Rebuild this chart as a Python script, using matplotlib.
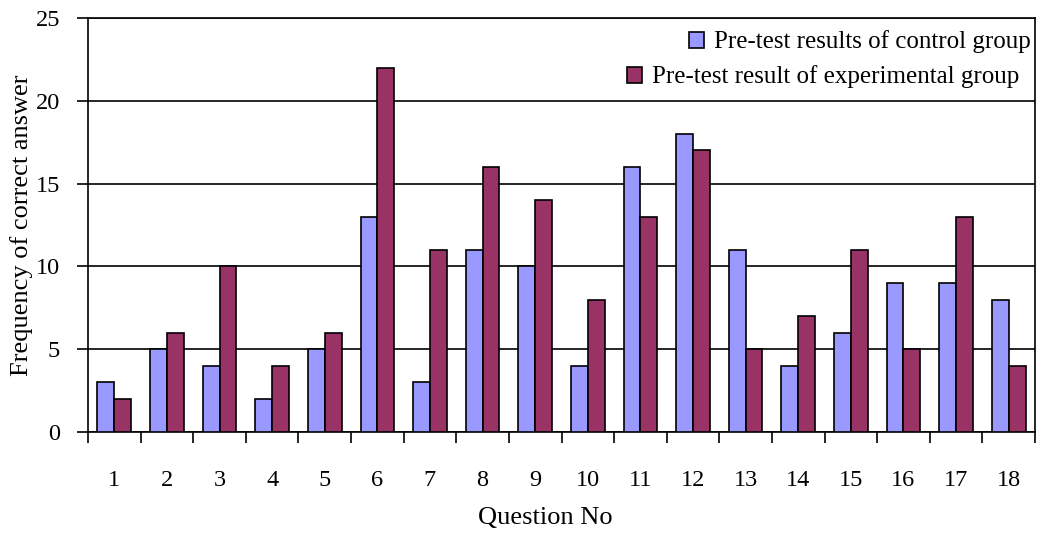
import matplotlib
matplotlib.use("Agg")
import matplotlib.pyplot as plt
import numpy as np
from matplotlib.patches import Patch

plt.rcParams['font.family'] = ['Liberation Serif', 'DejaVu Serif']

questions = [str(i) for i in range(1, 19)]
control = [3, 5, 4, 2, 5, 13, 3, 11, 10, 4, 16, 18, 11, 4, 6, 9, 9, 8]
experimental = [2, 6, 10, 4, 6, 22, 11, 16, 14, 8, 13, 17, 5, 7, 11, 5, 13, 4]
label_control = "Pre-test results of control group"
label_exp = "Pre-test result of experimental group"
c_control = "#9999FF"
c_exp = "#993366"

W, H = 1038, 533
fig = plt.figure(figsize=(W/100, H/100), dpi=100)
ax = fig.add_axes([88/W, (H-432)/H, (1035-88)/W, (432-18)/H])

x = np.arange(len(questions))
w = 0.32
ax.bar(x - w/2, control, w, color=c_control, edgecolor='black', linewidth=1.2, zorder=3)
ax.bar(x + w/2, experimental, w, color=c_exp, edgecolor='black', linewidth=1.2, zorder=3)

ax.set_xlim(-0.5, len(questions) - 0.5)
ax.set_ylim(0, 25)
ax.set_yticks([0, 5, 10, 15, 20, 25])
ax.yaxis.grid(True, color='black', linewidth=1.2, zorder=0)
ax.set_axisbelow(True)

ax.set_xticks(x)
ax.set_xticklabels(questions, fontsize=17.5)
ax.tick_params(axis='x', which='major', length=0, pad=27)
ax.set_xticks(np.arange(-0.5, len(questions), 1), minor=True)
ax.tick_params(axis='x', which='minor', length=8, width=1.2, direction='out')
ax.tick_params(axis='y', labelsize=17.5, length=8, width=1.2, direction='out', pad=12)

for s in ax.spines.values():
    s.set_linewidth(1.2)

ax.set_xlabel("Question No", fontsize=19)
ax.set_ylabel("Frequency of correct answer", fontsize=19)
ax.xaxis.set_label_coords((545-88)/(1035-88), -(518-432)/(432-18), transform=ax.transAxes)
ax.yaxis.set_label_coords(-(88-22)/(1035-88), 0.5, transform=ax.transAxes)
ax.xaxis.label.set_va('center')
ax.yaxis.label.set_va('center')

h1 = [Patch(facecolor=c_control, edgecolor='black', linewidth=1.2)]
h2 = [Patch(facecolor=c_exp, edgecolor='black', linewidth=1.2)]
leg1 = ax.legend(h1, [label_control], loc='center right',
                 bbox_to_anchor=(1031/W, 1-42/H), bbox_transform=fig.transFigure,
                 frameon=False, fontsize=18, handlelength=0.6, handleheight=0.6,
                 handletextpad=0.4, borderaxespad=0, borderpad=0)
ax.add_artist(leg1)
leg2 = ax.legend(h2, [label_exp], loc='center right',
                 bbox_to_anchor=(1019/W, 1-77/H), bbox_transform=fig.transFigure,
                 frameon=False, fontsize=18, handlelength=0.6, handleheight=0.6,
                 handletextpad=0.4, borderaxespad=0, borderpad=0)

fig.savefig("out.png", dpi=100)
